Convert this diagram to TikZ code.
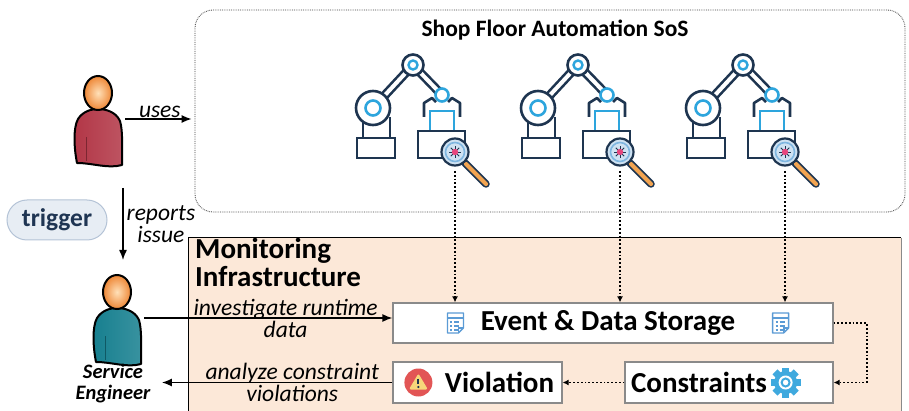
\documentclass[tikz,border=0pt]{standalone}
\usepackage{fontspec}
\setmainfont{Carlito}
\usetikzlibrary{arrows.meta,positioning}

\definecolor{navy}{HTML}{1E3550}
\definecolor{armblue}{HTML}{2DA5DD}
\definecolor{lensfill}{HTML}{CFE2F2}
\definecolor{lensring}{HTML}{7FB6E0}
\definecolor{germ}{HTML}{E8467C}
\definecolor{handle}{HTML}{F2A451}
\definecolor{peach}{HTML}{FCE8D8}
\definecolor{boxgray}{HTML}{8A8A8A}
\definecolor{pillfill}{HTML}{E7EDF4}
\definecolor{pilldraw}{HTML}{B4C3D6}
\definecolor{pilltext}{HTML}{1F3553}
\definecolor{docblue}{HTML}{5B9BD5}
\definecolor{gearblue}{HTML}{3FA9DE}
\definecolor{alertred}{HTML}{E25555}
\definecolor{alertyellow}{HTML}{F7D77A}
\definecolor{userdark}{HTML}{B23646}
\definecolor{userlight}{HTML}{F2A3AB}
\definecolor{engdark}{HTML}{167F8F}
\definecolor{englight}{HTML}{7AD6E0}
\definecolor{headin}{HTML}{FFE0B8}
\definecolor{headout}{HTML}{EE8736}

\tikzset{
    % robot arm with a magnifier, drawn in pixel units (y points down)
    robot/.pic={
        \draw[navy,line width=2.6pt,double=white,double distance=4pt] (18,53) -- (58,10) -- (87,40);
        \draw[navy,line width=2.6pt] (8,83) -- (8,62) (35,62) -- (35,83);
        \draw[navy,line width=2.6pt,fill=white] (2,83) rectangle (40,103);
        \draw[navy,line width=2.6pt,fill=white] (18,53) circle (17);
        \draw[armblue,line width=2.6pt] (18,53) circle (7.5);
        \draw[navy,line width=2.6pt,fill=white] (58,10) circle (10.5);
        \draw[armblue,line width=2.4pt] (58,10) circle (4.5);
        \draw[navy,line width=2.6pt,line join=round] (69,62) -- (69,48) -- (77,43) -- (81,47)
            (105,62) -- (105,48) -- (97,43) -- (93,47);
        \draw[armblue,line width=2.6pt,fill=white] (75,56) rectangle (99,76);
        \draw[armblue,line width=2.6pt,fill=white] (87,40) circle (6.5);
        \draw[navy,line width=2.6pt,fill=white] (63,76) rectangle (110,103);
        % magnifier
        \draw[navy,line width=7.5pt,line cap=round] (110,108) -- (131,129);
        \draw[handle,line width=4.2pt,line cap=round] (111,109) -- (131,129);
        \draw[navy,line width=2.2pt,fill=lensfill] (100,97) circle (13.5);
        \draw[lensring,line width=1.6pt] (100,97) circle (9.5);
        \foreach \a in {0,45,...,315}
            \draw[navy,line width=0.8pt] (100,97) -- ++(\a:6);
        \fill[germ] (100,97) circle (3.2);
        \coordinate (-lens) at (100,116);
    },
    % person icon, #1 picks the body colours
    person/.pic={
        \draw[line width=2pt,line join=round,shading=axis,left color=#1dark,
              middle color=#1light,right color=#1dark!85]
            (-21,70) .. controls (-24,55) and (-25,35) .. (-20,26)
            .. controls (-15,18) and (-6,16) .. (0,16)
            .. controls (8,16) and (18,19) .. (22,28)
            .. controls (25,38) and (24,55) .. (24,72)
            .. controls (10,76) and (-5,70) .. (-21,70) -- cycle;
        \draw[#1dark!70!black,line width=0.8pt] (-12,44) -- (-12,68);
        \draw[line width=2pt,inner color=headin,outer color=headout] (0,0) ellipse (14 and 17);
        \coordinate (-hand) at (27,26);
        \coordinate (-foot) at (25,95);
        \coordinate (-crown) at (6,-32);
    },
    docicon/.pic={
        \draw[docblue,line width=1.3pt,fill=white,line join=round]
            (-8,-10) -- (8,-10) -- (8,5) -- (3,10) -- (-8,10) -- cycle;
        \draw[docblue,line width=1.3pt] (-8,-5) -- (8,-5) (3,10) -- (3,5) -- (8,5);
        \foreach \yy in {-1,3,7}
            \draw[docblue,line width=1.2pt] (-5,\yy) -- (-3,\yy) (-1,\yy) -- (4,\yy);
    },
    gearicon/.pic={
        \foreach \a in {0,45,90,135}
            \fill[gearblue,rotate=\a] (-3.5,-15) rectangle (3.5,15);
        \fill[gearblue] (0,0) circle (11.5);
        \fill[white] (0,0) circle (7);
        \draw[gearblue,line width=2pt] (0,0) circle (4);
    },
    alerticon/.pic={
        \fill[alertred] (0,0) circle (14);
        \fill[alertyellow,rounded corners=2pt] (0,-9) -- (9.5,7) -- (-9.5,7) -- cycle;
        \draw[navy,line width=2pt] (0,-4) -- (0,1.5);
        \fill[navy] (0,4.5) circle (1.2);
    },
}

\begin{document}
\begin{tikzpicture}[
    x=1pt,y=-1pt,
    flow/.style={-{Latex[length=10pt,width=8pt]},line width=1.4pt},
    feed/.style={-{Latex[length=6pt,width=6pt]},dotted,line width=1.8pt},
    infobox/.style={draw=boxgray,fill=white,line width=1.2pt,inner sep=0pt,
        font=\fontsize{29}{32}\selectfont\bfseries},
    lbl/.style={font=\fontsize{23.5}{22}\selectfont\itshape,align=center,inner sep=1pt},
]
    \useasboundingbox (0,0) rectangle (909,411);

    % system of systems
    \node[draw=black!75,densely dotted,line width=0.8pt,rounded corners=18pt,
          minimum width=710pt,minimum height=202pt] (sos) at (550,111) {};
    \node[font=\fontsize{23.5}{26}\selectfont\bfseries] (sostitle) at (555,30) {Shop Floor Automation SoS};
    \pic (r1) at (355,55) {robot};
    \pic (r2) at (520,55) {robot};
    \pic (r3) at (685,55) {robot};

    % monitoring infrastructure
    \fill[peach] (188,238) rectangle (901,411);
    \draw[line width=1pt] (188,411) |- (901,238);
    \draw[boxgray,line width=1pt] (901,238) -- (901,411);
    \node[anchor=north west,align=left,inner sep=0pt,
          font=\fontsize{29}{28}\selectfont\bfseries] (monitor) at (195,238) {Monitoring\\Infrastructure};

    \node[infobox,minimum width=440pt,minimum height=40pt] (store) at (613,323)
        {Event \& Data Storage\kern10pt};
    \node[infobox,minimum width=208pt,minimum height=41pt] (constraints) at (729,382.5)
        {Constraints\kern60pt};
    \node[infobox,minimum width=169pt,minimum height=41pt] (violation) at (477.5,382.5)
        {\kern44pt Violation};
    \pic at ([xshift=63pt]store.west) {docicon};
    \pic at ([xshift=-53pt]store.east) {docicon};
    \pic at ([xshift=-48pt]constraints.east) {gearicon};
    \pic at ([xshift=26pt]violation.west) {alerticon};

    % people
    \pic (user) at (98,93) {person=user};
    \pic (eng) at (117,292) {person=eng};
    \node[font=\fontsize{20.5}{21}\selectfont\bfseries\itshape,align=center] (englabel) at (113,384) {Service\\Engineer};
    \node[draw=pilldraw,fill=pillfill,rounded corners=20pt,line width=1pt,
          minimum width=100pt,minimum height=40pt,text=pilltext,
          font=\fontsize{25.5}{27}\selectfont\bfseries] (trigger) at (57,220) {trigger};

    % interactions
    \draw[flow,shorten >=3pt] (user-hand) -- (user-hand -| sos.west) node[lbl,midway,above] {uses};
    \draw[flow] (user-foot) -- (eng-crown) node[lbl,midway,right=2pt] {reports\\issue};
    \draw[flow] (eng-hand) -- (eng-hand -| store.west)
        node[lbl,pos=0.57] {investigate runtime\\data};
    \draw[flow,shorten >=8pt] (violation.west) -- (violation.west -| englabel.east)
        node[lbl,pos=0.42] {analyze constraint\\violations};

    % data flow
    \foreach \r in {r1,r2,r3}
        \draw[feed] (\r-lens) -- (\r-lens |- store.north);
    \draw[feed] (store.east) -- ++(33,0) |- (constraints.east);
    \draw[feed] (constraints) -- (violation);
\end{tikzpicture}
\end{document}
